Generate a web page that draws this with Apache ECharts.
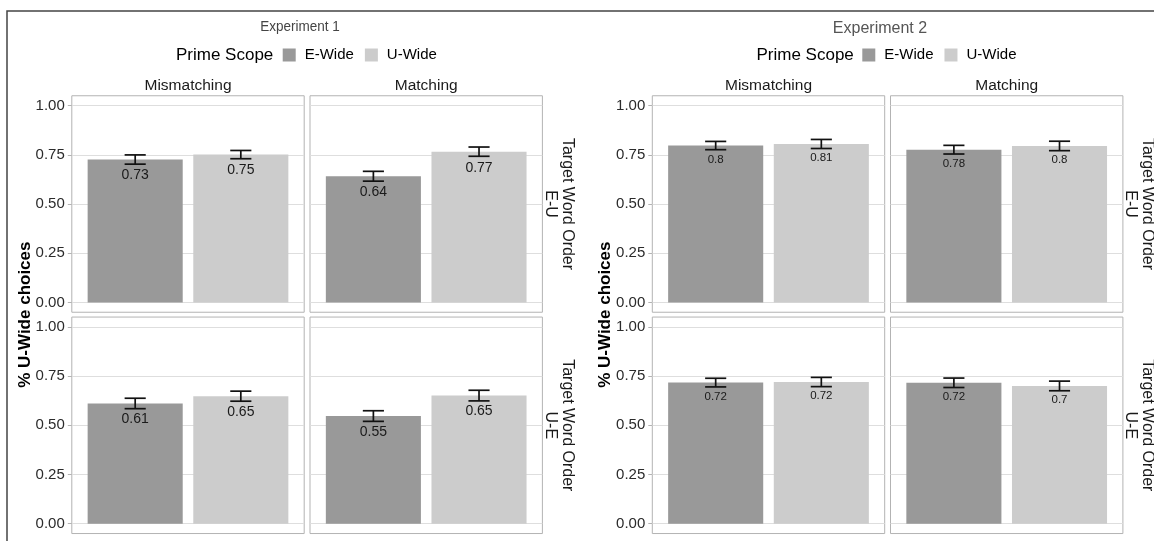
<!DOCTYPE html>
<html>
<head>
<meta charset="utf-8">
<script src="https://cdn.jsdelivr.net/npm/echarts@6/dist/echarts.min.js"></script>
<style>
html,body{margin:0;padding:0;background:#fff;}
#chart{width:1154px;height:541px;}
</style>
</head>
<body>
<div id="chart"></div>
<script>
// ---------------- data ----------------
const experiments = ['Experiment 1', 'Experiment 2'];
const primeScopes = ['E-Wide', 'U-Wide'];
const matchConditions = ['Mismatching', 'Matching'];
const wordOrders = ['E-U', 'U-E'];
const yTicks = [0, 0.25, 0.5, 0.75, 1];
const yAxisTitle = '% U-Wide choices';
const legendTitle = 'Prime Scope';
const stripPrefix = 'Target Word Order';

// panel order: [E-U Mismatching, E-U Matching, U-E Mismatching, U-E Matching]
const exp1EWide   = [0.726, 0.641, 0.611, 0.547];
const exp1UWide   = [0.751, 0.766, 0.648, 0.651];
const exp1EWideSE = [0.0235, 0.025, 0.0265, 0.027];
const exp1UWideSE = [0.021, 0.0235, 0.0255, 0.027];

const exp2EWide   = [0.797, 0.776, 0.717, 0.716];
const exp2UWide   = [0.805, 0.795, 0.720, 0.700];
const exp2EWideSE = [0.021, 0.022, 0.022, 0.024];
const exp2UWideSE = [0.023, 0.024, 0.0235, 0.0245];

const meansE = [exp1EWide, exp2EWide];
const meansU = [exp1UWide, exp2UWide];
const seE = [exp1EWideSE, exp2EWideSE];
const seU = [exp1UWideSE, exp2UWideSE];

// ---------------- layout ----------------
const FONT = "'Liberation Sans', Arial, Helvetica, sans-serif";
const EXP_DX = 580.5;
const PANEL_LEFT0 = 71.8, COL_STEP = 238.2, PANEL_W = 232.4;
const DATA_TOP0 = 105.6, ROW_STEP = 221.3, DATA_H = 196.8;
const PAD = DATA_H * 0.05;
const X_MIN = 0.4, X_MAX = 2.6, BAR_UNITS = 0.9, CAP_UNITS = 0.2;
const BAR_W = BAR_UNITS * PANEL_W / (X_MAX - X_MIN);
const COL_DARK = '#999999', COL_LIGHT = '#cccccc';
const labelFont = [14, 11.5];
const labelDist = [9, 8];

const fmt = v => String(Math.round(v * 100) / 100);

const grid = [], xAxis = [], yAxis = [], series = [], graphic = [];

graphic.push({
  type: 'rect', shape: {x: 7, y: 11, width: 1400, height: 800},
  style: {fill: 'none', stroke: '#444', lineWidth: 1.5}, z: 100
});

for (let e = 0; e < 2; e++) {
  const dx = e * EXP_DX;
  for (let r = 0; r < 2; r++) {
    for (let c = 0; c < 2; c++) {
      const p = r * 2 + c;
      const left = PANEL_LEFT0 + dx + c * COL_STEP;
      const top = DATA_TOP0 + r * ROW_STEP;
      // frame grid
      const fg = grid.length;
      grid.push({left: left, top: top - PAD, width: PANEL_W, height: DATA_H + 2 * PAD,
        show: true, backgroundColor: '#fff', borderColor: '#b3b3b3', borderWidth: 1,
        outerBoundsMode: 'none', containLabel: false});
      xAxis.push({type: 'value', gridIndex: fg, show: false, min: 0, max: 1});
      yAxis.push({type: 'value', gridIndex: fg, show: false, min: 0, max: 1});
      // data grid
      const dg = grid.length;
      grid.push({left: left, top: top, width: PANEL_W, height: DATA_H,
        show: false, outerBoundsMode: 'none', containLabel: false});
      const xi = xAxis.length;
      xAxis.push({type: 'value', gridIndex: dg, show: false, min: X_MIN, max: X_MAX});
      const yi = yAxis.length;
      yAxis.push({
        type: 'value', gridIndex: dg, min: yTicks[0], max: yTicks[yTicks.length - 1],
        interval: yTicks[1] - yTicks[0],
        axisLine: {show: false},
        axisTick: {show: c === 0, length: 4, lineStyle: {color: '#b3b3b3', width: 1}},
        axisLabel: {show: c === 0, margin: 7, fontSize: 15, color: '#2b2b2b', fontFamily: FONT,
          formatter: v => v.toFixed(2)},
        splitLine: {show: true, lineStyle: {color: '#dedede', width: 1}}
      });
      const mE = meansE[e][p], mU = meansU[e][p];
      const lbl = {show: true, position: 'insideTop', distance: labelDist[e],
        fontSize: labelFont[e], color: '#1a1a1a', fontFamily: FONT,
        formatter: prm => fmt(prm.value[1])};
      series.push({
        name: primeScopes[0], type: 'bar', xAxisIndex: xi, yAxisIndex: yi,
        data: [[1, mE]], barWidth: BAR_W, barGap: '-100%',
        itemStyle: {color: COL_DARK}, label: lbl, z: 2
      });
      series.push({
        name: primeScopes[1], type: 'bar', xAxisIndex: xi, yAxisIndex: yi,
        data: [[2, mU]], barWidth: BAR_W, barGap: '-100%',
        itemStyle: {color: COL_LIGHT}, label: lbl, z: 2
      });
      series.push({
        type: 'custom', xAxisIndex: xi, yAxisIndex: yi, z: 5,
        data: [[1, mE - seE[e][p], mE + seE[e][p]], [2, mU - seU[e][p], mU + seU[e][p]]],
        encode: {x: 0, y: [1, 2]},
        renderItem: function (params, api) {
          const x = api.value(0), lo = api.value(1), hi = api.value(2);
          const a = api.coord([x, lo]), b = api.coord([x, hi]);
          const half = api.size([CAP_UNITS / 2, 0])[0];
          const st = {stroke: '#111', lineWidth: 1.7};
          return {type: 'group', children: [
            {type: 'line', shape: {x1: a[0], y1: a[1], x2: b[0], y2: b[1]}, style: st},
            {type: 'line', shape: {x1: a[0] - half, y1: a[1], x2: a[0] + half, y2: a[1]}, style: st},
            {type: 'line', shape: {x1: b[0] - half, y1: b[1], x2: b[0] + half, y2: b[1]}, style: st}
          ]};
        }
      });
      // column strip (top row only)
      if (r === 0) {
        graphic.push({type: 'text', x: left + PANEL_W / 2, y: 86,
          style: {text: matchConditions[c], fontSize: 15.5, fill: '#1a1a1a', fontFamily: FONT,
            textAlign: 'center', textVerticalAlign: 'middle', align: 'center', verticalAlign: 'middle'}});
      }
    }
    // row strip (right)
    graphic.push({type: 'text', x: 558.5 + dx, y: DATA_TOP0 + r * ROW_STEP + DATA_H / 2,
      rotation: -Math.PI / 2,
      style: {text: stripPrefix + '\n' + wordOrders[r], fontSize: 16, lineHeight: 17,
        fill: '#1a1a1a', fontFamily: FONT,
        textAlign: 'center', textVerticalAlign: 'middle', align: 'center', verticalAlign: 'middle'}});
  }
  // y axis title
  graphic.push({type: 'text', x: 25 + dx, y: DATA_TOP0 - PAD + (ROW_STEP + DATA_H + 2 * PAD) / 2,
    rotation: Math.PI / 2,
    style: {text: yAxisTitle, fontSize: 17, fontWeight: 'bold', fill: '#000', fontFamily: FONT,
      textAlign: 'center', textVerticalAlign: 'middle', align: 'center', verticalAlign: 'middle'}});
  // legend title
  graphic.push({type: 'text', x: 176 + dx, y: 55,
    style: {text: legendTitle, fontSize: 17, fill: '#000', fontFamily: FONT,
      textAlign: 'left', textVerticalAlign: 'middle', align: 'left', verticalAlign: 'middle'}});
}
// experiment titles
graphic.push({type: 'text', x: 300, y: 27, scaleX: 0.9,
  style: {text: experiments[0], fontSize: 15, fill: '#444', fontFamily: FONT,
    textAlign: 'center', textVerticalAlign: 'middle', align: 'center', verticalAlign: 'middle'}});
graphic.push({type: 'text', x: 880, y: 29,
  style: {text: experiments[1], fontSize: 16, fill: '#555', fontFamily: FONT,
    textAlign: 'center', textVerticalAlign: 'middle', align: 'center', verticalAlign: 'middle'}});

const legend = [0, 1].map(e => ({
  data: primeScopes, left: 282.7 + e * 579.6, top: 47.5, padding: 0,
  itemWidth: 13, itemHeight: 13, itemGap: 11, icon: 'rect',
  selectedMode: false,
  textStyle: {fontSize: 15, color: '#000', fontFamily: FONT, padding: [0, 0, 0, 4]}
}));

const chart = echarts.init(document.getElementById('chart'), null, {renderer: 'canvas'});
chart.setOption({
  backgroundColor: '#fff',
  animation: false,
  textStyle: {fontFamily: FONT},
  grid, xAxis, yAxis, series, legend, graphic
});
</script>
</body>
</html>
